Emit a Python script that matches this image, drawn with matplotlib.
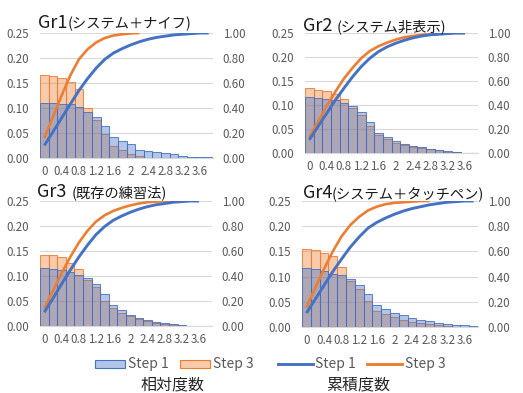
import matplotlib
matplotlib.use('Agg')
import matplotlib.pyplot as plt
import numpy as np
from matplotlib.colors import to_rgba
from matplotlib.patches import Rectangle
from matplotlib.lines import Line2D

plt.rcParams['font.family'] = ['Noto Sans CJK JP', 'DejaVu Sans']

# --- Data ---
bin_labels = ['0', '', '0.4', '', '0.8', '', '1.2', '', '1.6', '', '2', '',
              '2.4', '', '2.8', '', '3.2', '', '3.6', '']

g1_s1_rel = [0.110, 0.109, 0.108, 0.107, 0.102, 0.091, 0.082, 0.063, 0.042, 0.034,
             0.027, 0.015, 0.013, 0.011, 0.009, 0.007, 0.003, 0.001, 0.001, 0.001]
g1_s3_rel = [0.166, 0.163, 0.160, 0.152, 0.137, 0.099, 0.075, 0.048, 0.023, 0.015,
             0.008, 0.003]
g1_s1_cum = [0.10, 0.21, 0.32, 0.43, 0.54, 0.635, 0.72, 0.79, 0.84, 0.875,
             0.905, 0.93, 0.95, 0.965, 0.975, 0.985, 0.99, 0.995, 1.0, 1.0]
g1_s3_cum = [0.16, 0.33, 0.50, 0.66, 0.79, 0.87, 0.925, 0.96, 0.98, 0.99, 0.997, 1.0]

g2_s1_rel = [0.116, 0.114, 0.112, 0.110, 0.104, 0.097, 0.085, 0.064, 0.041, 0.033,
             0.024, 0.019, 0.015, 0.012, 0.009, 0.006, 0.004, 0.002, 0.001, 0.0]
g2_s3_rel = [0.135, 0.132, 0.130, 0.122, 0.113, 0.094, 0.080, 0.056, 0.037, 0.029,
             0.021, 0.017, 0.013, 0.010, 0.008, 0.006, 0.003, 0.002, 0.001, 0.0]
g2_s1_cum = [0.11, 0.22, 0.33, 0.44, 0.54, 0.635, 0.72, 0.79, 0.845, 0.885,
             0.915, 0.94, 0.96, 0.975, 0.985, 0.99, 0.995, 1.0, 1.0]
g2_s3_cum = [0.13, 0.26, 0.39, 0.51, 0.62, 0.71, 0.79, 0.85, 0.89, 0.92,
             0.945, 0.965, 0.975, 0.985, 0.99, 0.995, 1.0, 1.0, 1.0]

g3_s1_rel = [0.117, 0.115, 0.112, 0.108, 0.103, 0.096, 0.084, 0.065, 0.042, 0.032,
             0.023, 0.017, 0.012, 0.009, 0.007, 0.004, 0.002, 0.001, 0.0, 0.0]
g3_s3_rel = [0.143, 0.142, 0.139, 0.127, 0.115, 0.093, 0.078, 0.050, 0.037, 0.027,
             0.020, 0.015, 0.010, 0.007, 0.004, 0.003, 0.001]
g3_s1_cum = [0.11, 0.22, 0.335, 0.445, 0.55, 0.645, 0.73, 0.795, 0.845, 0.88,
             0.91, 0.935, 0.955, 0.97, 0.98, 0.99, 0.995, 1.0, 1.0]
g3_s3_cum = [0.14, 0.28, 0.42, 0.55, 0.665, 0.76, 0.835, 0.885, 0.92, 0.945,
             0.965, 0.98, 0.99, 0.995, 1.0, 1.0, 1.0]

g4_s1_rel = [0.118, 0.116, 0.111, 0.106, 0.103, 0.096, 0.083, 0.066, 0.044, 0.036,
             0.028, 0.023, 0.017, 0.013, 0.011, 0.007, 0.006, 0.004, 0.003, 0.001]
g4_s3_rel = [0.154, 0.152, 0.147, 0.141, 0.120, 0.091, 0.075, 0.052, 0.032, 0.025,
             0.019, 0.013, 0.010, 0.007, 0.005, 0.003, 0.001]
g4_s1_cum = [0.11, 0.22, 0.33, 0.44, 0.54, 0.635, 0.715, 0.785, 0.83, 0.865,
             0.895, 0.92, 0.94, 0.955, 0.97, 0.98, 0.99, 0.995, 1.0, 1.0]
g4_s3_cum = [0.155, 0.31, 0.46, 0.60, 0.72, 0.81, 0.875, 0.925, 0.955, 0.975,
             0.985, 0.99, 0.995, 1.0, 1.0]

group_names = ['Gr1', 'Gr2', 'Gr3', 'Gr4']
group_notes = ['(システム＋ナイフ)', '(システム非表示)', '(既存の練習法)', '(システム＋タッチペン)']
series_names = ['Step 1', 'Step 3']

BLUE = '#4472C4'
ORANGE = '#ED7D31'
GRID = '#D9D9D9'
TXT = '#595959'

W, H = 523, 393
fig = plt.figure(figsize=(W / 100, H / 100), dpi=100)


def px_axes(x0, y0, x1, y1):
    # pixel box (top-left origin) -> figure axes
    return fig.add_axes([x0 / W, 1 - y1 / H, (x1 - x0) / W, (y1 - y0) / H])


def fx(x):
    return x / W


def fy(y):
    return 1 - y / H


def plot_panel(box, s1_rel, s3_rel, s1_cum, s3_cum):
    ax = px_axes(*box)
    ax.bar(np.arange(len(s3_rel)), s3_rel, width=1.0, color=to_rgba(ORANGE, 0.4),
           edgecolor=to_rgba(ORANGE, 0.85), linewidth=0.75, zorder=2)
    ax.bar(np.arange(len(s1_rel)), s1_rel, width=1.0, color=to_rgba(BLUE, 0.4),
           edgecolor=to_rgba(BLUE, 0.85), linewidth=0.75, zorder=3)
    ax.set_xlim(-0.5, 19.5)
    ax.set_ylim(0, 0.25)
    ax.set_yticks(np.arange(0, 0.26, 0.05))
    ax.set_yticklabels([f'{v:.2f}' for v in np.arange(0, 0.26, 0.05)])
    ax.set_xticks(np.arange(20))
    ax.set_xticklabels(bin_labels)
    ax.set_axisbelow(True)
    ax.yaxis.grid(True, color=GRID, linewidth=0.8)
    for s in ['top', 'right', 'left']:
        ax.spines[s].set_visible(False)
    ax.spines['bottom'].set_color(GRID)
    ax.tick_params(axis='y', length=0, pad=8, labelsize=8.3, labelcolor=TXT)
    ax.tick_params(axis='x', length=0, pad=5, labelsize=8.3, labelcolor=TXT)

    ax2 = ax.twinx()
    ax2.plot(np.arange(len(s3_cum)), s3_cum, color=ORANGE, linewidth=1.9, solid_capstyle='butt')
    ax2.plot(np.arange(len(s1_cum)), s1_cum, color=BLUE, linewidth=2.1, solid_capstyle='butt')
    ax2.set_ylim(0, 1.0)
    ax2.set_yticks(np.arange(0, 1.01, 0.2))
    ax2.set_yticklabels([f'{v:.2f}' for v in np.arange(0, 1.01, 0.2)])
    for s in ax2.spines.values():
        s.set_visible(False)
    ax2.tick_params(axis='y', length=0, pad=7, labelsize=8.3, labelcolor=TXT)
    return ax


boxes = [(40, 33, 213, 158), (305, 33, 478, 153), (40, 201, 212, 326), (302, 201, 478, 327)]
data = [(g1_s1_rel, g1_s3_rel, g1_s1_cum, g1_s3_cum),
        (g2_s1_rel, g2_s3_rel, g2_s1_cum, g2_s3_cum),
        (g3_s1_rel, g3_s3_rel, g3_s1_cum, g3_s3_cum),
        (g4_s1_rel, g4_s3_rel, g4_s1_cum, g4_s3_cum)]
for box, d in zip(boxes, data):
    plot_panel(box, *d)

# titles: big group name + smaller note
title_pos = [(38, 28, 68), (303, 31, 337), (37, 197, 72), (303, 198, 332)]
for (x, y, xn), name, note in zip(title_pos, group_names, group_notes):
    fig.text(fx(x), fy(y), name, fontsize=13, color='#1a1a1a', va='baseline', ha='left')
    fig.text(fx(xn), fy(y), note, fontsize=10.3, color='#1a1a1a', va='baseline', ha='left')

# --- legend (drawn by hand) ---
ly = 364
fig.add_artist(Rectangle((fx(95), fy(ly + 4)), fx(30), 8 / H, transform=fig.transFigure,
                         facecolor=to_rgba(BLUE, 0.4), edgecolor=BLUE, linewidth=0.8))
fig.add_artist(Rectangle((fx(180), fy(ly + 4)), fx(30), 8 / H, transform=fig.transFigure,
                         facecolor=to_rgba(ORANGE, 0.4), edgecolor=ORANGE, linewidth=0.8))
fig.add_artist(Line2D([fx(278), fx(313)], [fy(ly), fy(ly)], transform=fig.transFigure,
                      color=BLUE, linewidth=2.1))
fig.add_artist(Line2D([fx(367), fx(402)], [fy(ly), fy(ly)], transform=fig.transFigure,
                      color=ORANGE, linewidth=2.1))
for x, lab in zip([128, 213, 315, 405], series_names * 2):
    fig.text(fx(x), fy(ly), lab, fontsize=10, color=TXT, va='center', ha='left')

fig.text(fx(173), fy(385), '相対度数', fontsize=11.5, color='#262626', va='center', ha='center')
fig.text(fx(358), fy(385), '累積度数', fontsize=11.5, color='#262626', va='center', ha='center')

fig.savefig('out.png', dpi=100, facecolor='white')
